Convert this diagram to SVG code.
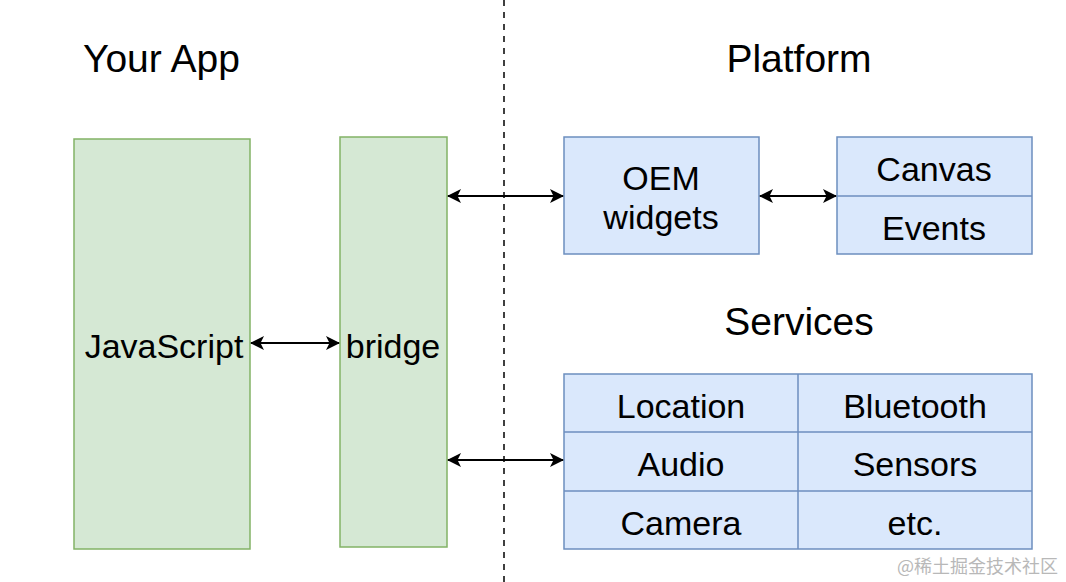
<svg xmlns="http://www.w3.org/2000/svg" width="1066" height="582" viewBox="0 0 1066 582">
<style>
.g{fill:#d5e8d4;stroke:#82b366;stroke-width:1.5}
.b{fill:#dae8fc;stroke:#6c8ebf;stroke-width:1.5}
.t{font-family:"Liberation Sans",Arial,sans-serif;font-size:34px;fill:#000;text-anchor:middle}
.h{font-family:"Liberation Sans",Arial,sans-serif;font-size:39px;fill:#000}
.c{stroke:#000;stroke-width:2;fill:none;marker-start:url(#ah);marker-end:url(#ah)}
</style>
<defs>
<marker id="ah" viewBox="0 0 14 14" refX="13" refY="7" markerWidth="14" markerHeight="14" markerUnits="userSpaceOnUse" orient="auto-start-reverse">
<path d="M0,0 L14,7 L0,14 L3.5,7 Z" fill="#000"/>
</marker>
</defs>
<rect width="1066" height="582" fill="#fff"/>
<line x1="504" y1="0" x2="504" y2="582" stroke="#000" stroke-width="1.5" stroke-dasharray="6,6"/>
<text class="h" x="83" y="72">Your App</text>
<text class="h" x="799" y="72" text-anchor="middle">Platform</text>
<text class="h" x="799" y="335" text-anchor="middle">Services</text>
<g id="javascript"><rect class="g" x="74" y="139" width="176" height="410"/><text class="t" x="164" y="358">JavaScript</text></g>
<g id="bridge"><rect class="g" x="340" y="137" width="107" height="410"/><text class="t" x="393" y="358">bridge</text></g>
<g id="oem"><rect class="b" x="564" y="137" width="195" height="117"/><text class="t" x="661" y="190">OEM</text><text class="t" x="661" y="229">widgets</text></g>
<g id="canvas-events"><rect class="b" x="837" y="137" width="195" height="117"/><line x1="837" y1="196" x2="1032" y2="196" stroke="#6c8ebf" stroke-width="1.5"/><text class="t" x="934" y="181">Canvas</text><text class="t" x="934" y="240">Events</text></g>
<g id="services"><rect class="b" x="564" y="374" width="468" height="175"/>
<line x1="798" y1="374" x2="798" y2="549" stroke="#6c8ebf" stroke-width="1.5"/>
<line x1="564" y1="432" x2="1032" y2="432" stroke="#6c8ebf" stroke-width="1.5"/>
<line x1="564" y1="491" x2="1032" y2="491" stroke="#6c8ebf" stroke-width="1.5"/>
<text class="t" x="681" y="418">Location</text><text class="t" x="915" y="418">Bluetooth</text>
<text class="t" x="681" y="476">Audio</text><text class="t" x="915" y="476">Sensors</text>
<text class="t" x="681" y="535">Camera</text><text class="t" x="915" y="535">etc.</text>
</g>
<g id="connectors">
<line class="c" x1="448" y1="196" x2="563" y2="196"/>
<line class="c" x1="760" y1="196" x2="836" y2="196"/>
<line class="c" x1="251" y1="343" x2="339" y2="343"/>
<line class="c" x1="448" y1="460" x2="563" y2="460"/>
</g>
<text x="1058" y="573" text-anchor="end" font-family="'Noto Sans CJK SC',sans-serif" font-size="18" fill="#b8b8b8">@稀土掘金技术社区</text>
</svg>
